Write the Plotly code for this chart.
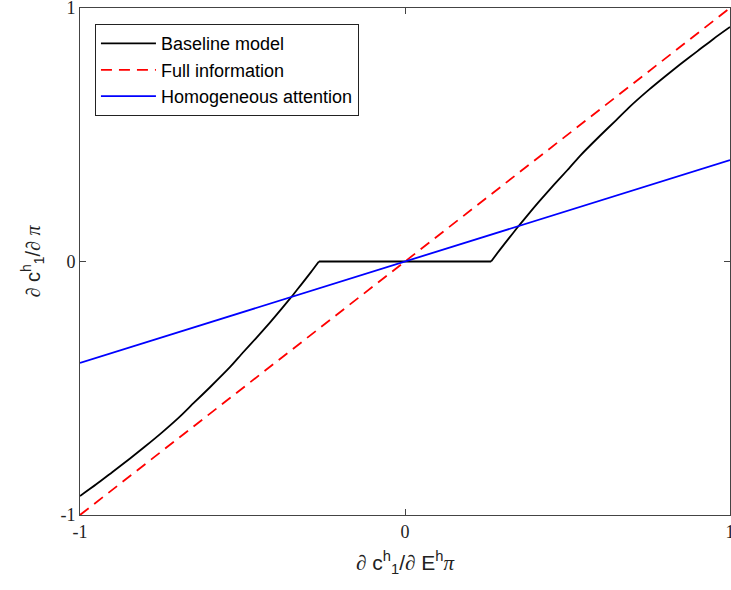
import plotly.graph_objects as go

# Data
x_line = [-1.0, 1.0]
full_info = [-1.0, 1.0]
homog = [-0.4, 0.4]

# Right branch of the baseline curve (the left branch is its mirror image)
pos_x = [0.265, 0.29, 0.32, 0.344, 0.38, 0.415, 0.46, 0.5, 0.538, 0.6,
         0.65, 0.692, 0.75, 0.8, 0.846, 0.9, 0.95, 1.0]
pos_y = [0.0, 0.043, 0.092, 0.131, 0.187, 0.240, 0.305, 0.361, 0.416, 0.496,
         0.558, 0.611, 0.677, 0.730, 0.777, 0.830, 0.879, 0.925]
# Flat part of the baseline curve
flat_x = [-0.265, 0.265]
flat_y = [0.0, 0.0]

neg_x = [-v for v in reversed(pos_x)]
neg_y = [-v for v in reversed(pos_y)]
curve_x = neg_x + [None] + pos_x
curve_y = neg_y + [None] + pos_y

tick_vals = [-1, 0, 1]
tick_text = ["-1", "0", "1"]

fig = go.Figure()
fig.add_trace(go.Scatter(x=curve_x, y=curve_y, mode="lines", name="Baseline model",
                         legendgroup="base", connectgaps=False,
                         line=dict(color="black", width=1.8, shape="spline", smoothing=0.6)))
fig.add_trace(go.Scatter(x=flat_x, y=flat_y, mode="lines", name="Baseline model",
                         legendgroup="base", showlegend=False,
                         line=dict(color="black", width=1.8)))
fig.add_trace(go.Scatter(x=x_line, y=full_info, mode="lines", name="Full information",
                         line=dict(color="#ff0000", width=1.8, dash="11px,7px")))
fig.add_trace(go.Scatter(x=x_line, y=homog, mode="lines", name="Homogeneous attention",
                         line=dict(color="#0000ff", width=1.8)))

serif = "Liberation Serif"
sans = "Liberation Sans"
pi = '<span style="font-family:Liberation Serif"><i>π</i></span>'
d = '<span style="font-family:Liberation Serif"><i>∂</i></span>'

axis_common = dict(
    tickmode="array", tickvals=tick_vals, ticktext=tick_text,
    ticks="inside", ticklen=6, tickcolor="#444444", tickwidth=1,
    showline=True, linecolor="#444444", linewidth=1, mirror="ticks",
    showgrid=False, zeroline=False, automargin=False,
    ticklabeloverflow="allow",
    tickfont=dict(family=serif, size=18, color="#222222"),
    range=[-1, 1],
)

fig.update_layout(
    width=731, height=590,
    margin=dict(l=80, r=1, t=8, b=75),
    plot_bgcolor="white", paper_bgcolor="white",
    xaxis=dict(**axis_common,
               title=dict(text=f"{d} c<sup>h</sup><sub>1</sub>/{d} E<sup>h</sup>{pi}",
                          font=dict(family=sans, size=21, color="#222222"), standoff=14)),
    yaxis=dict(**axis_common,
               title=dict(text=f"{d} c<sup>h</sup><sub>1</sub>/{d} {pi}",
                          font=dict(family=sans, size=20, color="#222222"), standoff=14)),
    legend=dict(x=0.023, y=0.968, xanchor="left", yanchor="top",
                bgcolor="white", bordercolor="#222222", borderwidth=1,
                itemwidth=55, tracegroupgap=0,
                font=dict(family=sans, size=18, color="black")),
    showlegend=True,
)

fig.write_html(
    "out.html",
    config={"displayModeBar": False},
    post_script="document.body.style.margin='0';document.body.style.overflow='hidden';",
)
